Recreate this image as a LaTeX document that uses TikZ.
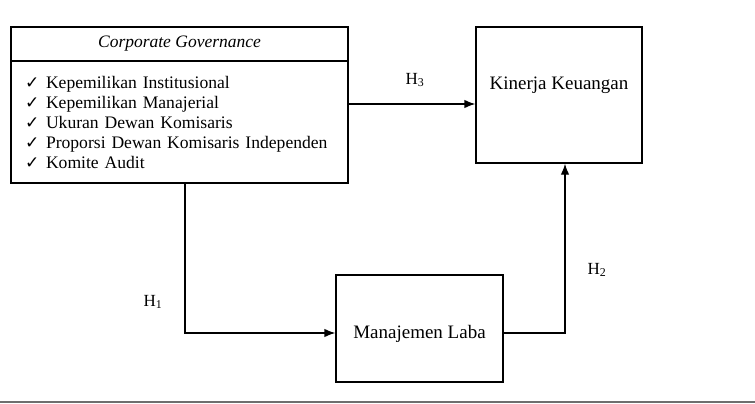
\documentclass[tikz,border=0pt]{standalone}
\usepackage{fontspec}
\setmainfont{Liberation Serif}
\newfontfamily\symfont{DejaVu Sans}
\usetikzlibrary{arrows.meta}
\newcommand{\cmark}{\makebox[21pt][l]{\symfont\fontsize{17}{17}\selectfont ✓}}

\begin{document}
\begin{tikzpicture}[x=1pt,y=-1pt,>={Latex[length=11pt,width=8.5pt]}]
	\tikzset{
		box/.style={draw, line width=1.3pt, inner sep=0pt},
		hyp/.style={font=\fontsize{17}{17}\selectfont},
		link/.style={->, line width=1.3pt},
	}
	\useasboundingbox (0,0) rectangle (755,404);
	% corporate governance block
	\node[box, minimum width=337pt, minimum height=34pt,
		font=\fontsize{17.5}{20}\selectfont\itshape] (cghead) at (179.5,44) {Corporate Governance};
	\node[box, minimum width=337pt, minimum height=122pt, inner xsep=14pt,
		text width=309pt, align=left, font=\fontsize{17.6}{20}\selectfont] (cglist) at (179.5,122)
		{\cmark Kepemilikan Institusional\\
		 \cmark Kepemilikan Manajerial\\
		 \cmark Ukuran Dewan Komisaris\\
		 \cmark Proporsi Dewan Komisaris Independen\\
		 \cmark Komite Audit};
	% variables
	\node[box, minimum width=166pt, text height=62pt, text depth=74pt,
		font=\fontsize{19}{19}\selectfont] (kinerja) at (559,95) {Kinerja Keuangan};
	\node[box, minimum width=167pt, text height=63pt, text depth=44pt,
		font=\fontsize{19}{19}\selectfont] (manaj) at (419.5,328.5) {Manajemen Laba};
	% hypotheses
	\node[hyp] (h3) at (415,80) {H\textsubscript{3}};
	\node[hyp] (h1) at (153,302) {H\textsubscript{1}};
	\node[hyp] (h2) at (597,270) {H\textsubscript{2}};
	\draw[link] (cglist.east |- 0,104) -- (kinerja.west |- 0,104);
	\draw[link] ([xshift=5.5pt]cglist.south) |- ([yshift=-4.5pt]manaj.west);
	\draw[link] ([yshift=-4.5pt]manaj.east) -| ([xshift=6pt]kinerja.south);
	% rule at the foot
	\draw[black!57, line width=2.5pt] (0,401.8) -- (755,401.8);
\end{tikzpicture}
\end{document}
